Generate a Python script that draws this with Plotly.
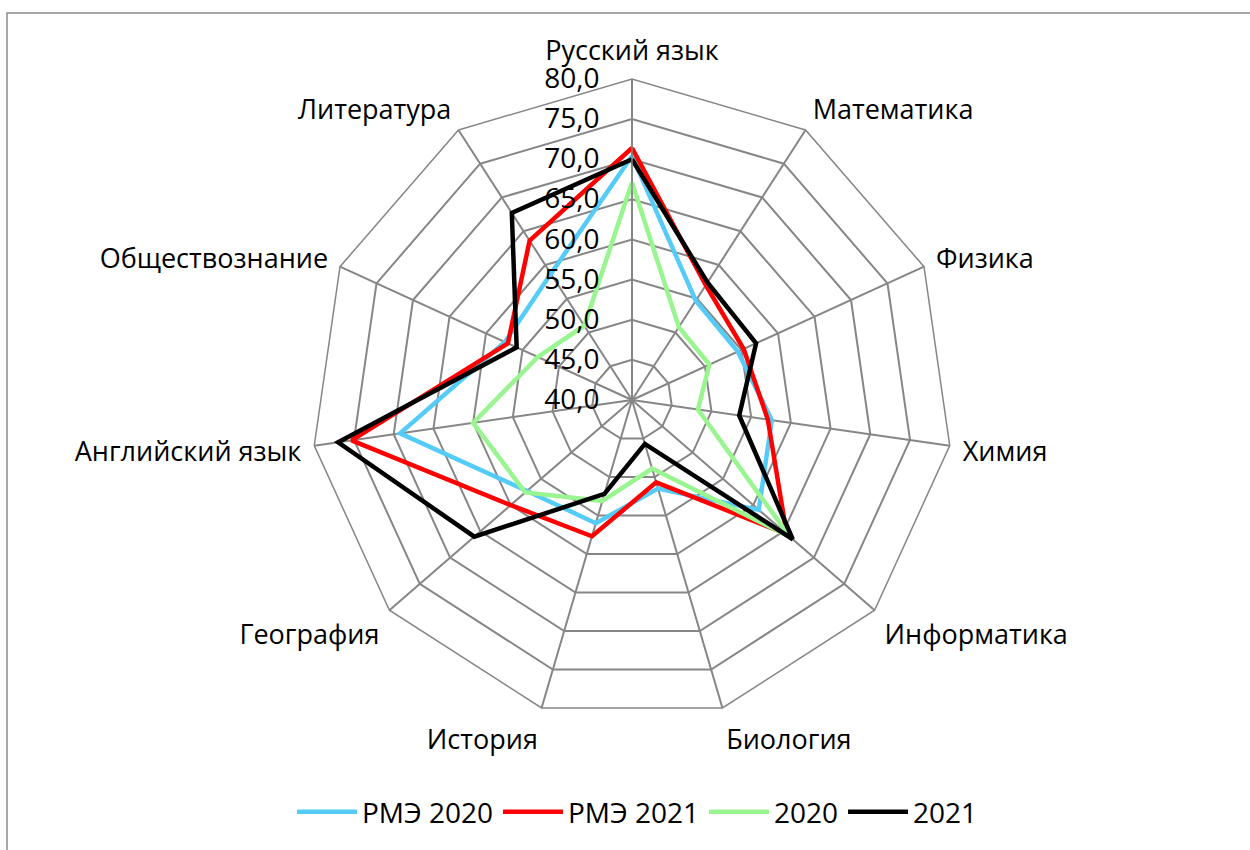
import plotly.graph_objects as go

categories = ["Русский язык", "Математика", "Физика", "Химия", "Информатика",
              "Биология", "История", "География", "Английский язык",
              "Обществознание", "Литература"]

rme_2020 = [70.4, 54.7, 54.5, 57.6, 60.9, 51.5, 56.0, 57.3, 69.2, 57.4, 58.7]
rme_2021 = [71.4, 57.0, 55.3, 57.1, 65.5, 50.7, 57.7, 60.0, 75.3, 57.0, 63.6]
y2020 = [67.1, 50.8, 50.6, 48.3, 66.0, 48.9, 53.1, 57.6, 60.0, 52.9, 51.0]
y2021 = [70.0, 57.4, 57.0, 53.5, 66.5, 45.7, 52.2, 66.0, 77.0, 55.8, 67.7]

series = [
    ("РМЭ 2020", rme_2020, "#55CCF8"),
    ("РМЭ 2021", rme_2021, "#FF0000"),
    ("2020", y2020, "#99F58F"),
    ("2021", y2021, "#000000"),
]

fig = go.Figure()
for name, vals, color in series:
    fig.add_trace(go.Scatterpolar(
        r=vals + vals[:1],
        theta=categories + categories[:1],
        mode="lines",
        name=name,
        line=dict(color=color, width=4.5),
    ))

W, H = 1250, 850
cx, cy, R = 632, 400, 321

fig.update_layout(
    width=W, height=H,
    margin=dict(l=0, r=0, t=0, b=0),
    paper_bgcolor="white",
    plot_bgcolor="white",
    separators=", ",
    font=dict(family="Open Sans", size=27, color="#000000"),
    polar=dict(
        domain=dict(x=[(cx - R) / W, (cx + R) / W],
                    y=[(H - cy - R) / H, (H - cy + R) / H]),
        bgcolor="white",
        gridshape="linear",
        angularaxis=dict(
            rotation=90,
            direction="clockwise",
            showline=True,
            linecolor="#868686",
            linewidth=1.5,
            gridcolor="#868686",
            gridwidth=1.5,
            ticks="outside",
            ticklen=7,
            tickcolor="rgba(0,0,0,0)",
            tickfont=dict(size=27, family="Open Sans"),
        ),
        radialaxis=dict(
            range=[40, 80],
            dtick=5,
            tick0=40,
            tickformat=".1f",
            angle=90,
            side="counterclockwise",
            showline=True,
            linecolor="#868686",
            linewidth=1.5,
            gridcolor="#868686",
            gridwidth=1.5,
            ticks="outside",
            ticklen=22,
            tickcolor="rgba(0,0,0,0)",
            tickangle=90,
            tickfont=dict(size=28, family="Open Sans"),
        ),
    ),
    legend=dict(
        orientation="h",
        x=0.51, xanchor="center",
        y=(H - 812) / H, yanchor="middle",
        font=dict(size=28, family="Open Sans"),
        itemwidth=60,
    ),
    shapes=[dict(type="rect", xref="paper", yref="paper",
                 x0=7 / W, x1=1.01, y0=-0.01, y1=(H - 13) / H,
                 line=dict(color="#8C8C8C", width=1.5))],
)

fig.write_html("out.html", config={"displayModeBar": False},
               post_script="document.body.style.margin='0px';")
